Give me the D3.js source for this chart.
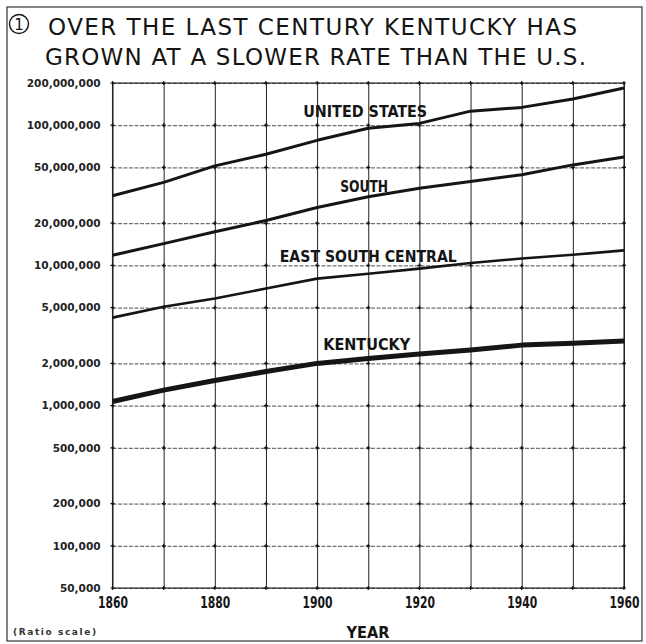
<!DOCTYPE html>
<html>
<head>
<meta charset="utf-8">
<script src="https://cdn.jsdelivr.net/npm/d3@7"></script>
<style>
  body { margin: 0; background: #fff; }
  svg { display: block; }
</style>
</head>
<body>
<svg id="chart" width="646" height="644"></svg>
<script>
// Census years on the x axis
var years = [1860, 1870, 1880, 1890, 1900, 1910, 1920, 1930, 1940, 1950, 1960];
var yearLabels = [1860, 1880, 1900, 1920, 1940, 1960];

// Populations in millions
var unitedStates = [31.4, 39.1, 51.3, 62.0, 78.0, 95.0, 103.0, 126.0, 134.0, 154.0, 184.0];
var south = [11.8, 14.3, 17.4, 20.9, 25.9, 30.9, 35.5, 39.7, 44.3, 52.1, 59.3];
var eastSouthCentral = [4.24, 5.07, 5.81, 6.84, 8.05, 8.73, 9.49, 10.4, 11.2, 11.9, 12.8];
var kentucky = [1.07, 1.29, 1.51, 1.75, 2.0, 2.17, 2.33, 2.49, 2.70, 2.78, 2.89];

// y tick values (persons)
var popTicks = [50000, 100000, 200000, 500000, 1000000, 2000000, 5000000,
                10000000, 20000000, 50000000, 100000000, 200000000];

var seriesNames = ["UNITED STATES", "SOUTH", "EAST SOUTH CENTRAL", "KENTUCKY"];
var seriesValues = [unitedStates, south, eastSouthCentral, kentucky];

var titleLines = ["OVER THE LAST CENTURY KENTUCKY HAS", "GROWN AT A SLOWER RATE THAN THE U.S."];

var ink = "#151515";
var boldFont = "'DejaVu Sans Condensed', 'Liberation Sans Narrow', 'DejaVu Sans', sans-serif";

var svg = d3.select("#chart");

// outer frame of the figure
svg.append("rect")
    .attr("x", 7).attr("y", 7)
    .attr("width", 635).attr("height", 634)
    .attr("fill", "none")
    .attr("stroke", "#333")
    .attr("stroke-width", 1.2);

// Title with the circled number
svg.append("circle")
    .attr("cx", 19).attr("cy", 24).attr("r", 9.5)
    .attr("fill", "none").attr("stroke", ink).attr("stroke-width", 1.4);
svg.append("text")
    .attr("x", 19).attr("y", 30)
    .attr("text-anchor", "middle")
    .style("font-family", "'DejaVu Sans', sans-serif")
    .style("font-size", "15px")
    .style("fill", ink)
    .text("1");

var titleBox = [{x: 48, y: 35, w: 529}, {x: 45, y: 65, w: 541}];
svg.selectAll("text.title")
    .data(titleLines)
    .enter().append("text")
        .attr("class", "title")
        .attr("x", function(d, i) { return titleBox[i].x; })
        .attr("y", function(d, i) { return titleBox[i].y; })
        .attr("textLength", function(d, i) { return titleBox[i].w; })
        .attr("lengthAdjust", "spacing")
        .style("font-family", "'DejaVu Sans', sans-serif")
        .style("font-size", "23px")
        .style("font-weight", "normal")
        .style("fill", ink)
        .text(function(d) { return d; });

// plot area
var margin = {top: 83, left: 112.5},
    width = 624 - 112.5,
    height = 588 - 83;

var x = d3.scaleLinear()
    .domain([1860, 1960])
    .range([0, width]);

var y = d3.scaleLog()
    .domain([50000, 200000000])
    .range([height, 0]);

var g = svg.append("g")
    .attr("transform", "translate(" + margin.left + "," + margin.top + ")");

// horizontal grid
g.append("g")
    .attr("class", "hgrid")
    .call(d3.axisLeft(y).tickValues(popTicks).tickSize(-width).tickFormat(""))
    .call(function(s) { s.select(".domain").remove(); })
    .selectAll("line")
        .attr("stroke", "#3a3a3a")
        .attr("stroke-width", 0.9)
        .attr("stroke-dasharray", "4,1.5");

// vertical grid
g.append("g")
    .attr("class", "vgrid")
    .attr("transform", "translate(0," + height + ")")
    .call(d3.axisBottom(x).tickValues(years).tickSize(-height).tickFormat(""))
    .call(function(s) { s.select(".domain").remove(); })
    .selectAll("line")
        .attr("stroke", "#222")
        .attr("stroke-width", 1);

// frame of plot
g.append("rect")
    .attr("x", 0).attr("y", 0)
    .attr("width", width).attr("height", height)
    .attr("fill", "none")
    .attr("stroke", "#222")
    .attr("stroke-width", 1.1);

// small crosses at grid crossings
var crossings = [];
years.forEach(function(yr) {
    popTicks.forEach(function(p) { crossings.push([yr, p]); });
});
g.selectAll("path.cross")
    .data(crossings)
    .enter().append("path")
        .attr("class", "cross")
        .attr("d", function(d) {
            var cx = x(d[0]), cy = y(d[1]);
            return "M" + (cx - 2) + "," + cy + "H" + (cx + 2) + "M" + cx + "," + (cy - 2) + "V" + (cy + 2);
        })
        .attr("stroke", "#111")
        .attr("stroke-width", 1.2);

// y axis labels
var yAxis = g.append("g")
    .call(d3.axisLeft(y).tickValues(popTicks).tickSize(0).tickPadding(12).tickFormat(d3.format(",")));
yAxis.select(".domain").remove();
yAxis.selectAll("text")
    .style("font-family", "'DejaVu Sans', sans-serif")
    .style("font-size", "10.5px")
    .style("font-weight", "bold")
    .style("fill", "#222");

// x axis labels
var xAxis = g.append("g")
    .attr("transform", "translate(0," + height + ")")
    .call(d3.axisBottom(x).tickValues(yearLabels).tickSize(0).tickPadding(9).tickFormat(d3.format("d")));
xAxis.select(".domain").remove();
xAxis.selectAll("text")
    .attr("textLength", 30)
    .attr("lengthAdjust", "spacingAndGlyphs")
    .style("font-family", boldFont)
    .style("font-size", "15px")
    .style("font-weight", "bold")
    .style("fill", ink);

svg.append("text")
    .attr("x", 368).attr("y", 638)
    .attr("text-anchor", "middle")
    .attr("textLength", 43)
    .attr("lengthAdjust", "spacingAndGlyphs")
    .style("font-family", boldFont)
    .style("font-size", "15px")
    .style("font-weight", "bold")
    .style("fill", ink)
    .text("YEAR");

svg.append("text")
    .attr("x", 13).attr("y", 635)
    .attr("textLength", 83)
    .attr("lengthAdjust", "spacing")
    .style("font-family", "'DejaVu Sans', sans-serif")
    .style("font-size", "9px")
    .style("font-weight", "bold")
    .style("fill", "#333")
    .text("(Ratio scale)");

// series lines
var line = d3.line()
    .x(function(d, i) { return x(years[i]); })
    .y(function(d) { return y(d * 1e6); });

var lineWidths = [3, 3, 2.6, 5];
g.selectAll("path.series")
    .data(seriesValues)
    .enter().append("path")
        .attr("class", "series")
        .attr("d", line)
        .attr("fill", "none")
        .attr("stroke", ink)
        .attr("stroke-width", function(d, i) { return lineWidths[i]; })
        .attr("stroke-linejoin", "round");

// series labels: placed in data coordinates (year, millions)
var labelSpots = [
    {year: 1909.4, value: 114, w: 124},
    {year: 1909.2, value: 33.4, w: 48},
    {year: 1910.0, value: 10.6, w: 177},
    {year: 1909.7, value: 2.49, w: 87}
];
g.selectAll("text.serieslabel")
    .data(seriesNames)
    .enter().append("text")
        .attr("class", "serieslabel")
        .attr("x", function(d, i) { return x(labelSpots[i].year); })
        .attr("y", function(d, i) { return y(labelSpots[i].value * 1e6); })
        .attr("text-anchor", "middle")
        .attr("textLength", function(d, i) { return labelSpots[i].w; })
        .attr("lengthAdjust", "spacingAndGlyphs")
        .style("font-family", boldFont)
        .style("font-size", "15px")
        .style("font-weight", "bold")
        .style("fill", ink)
        .text(function(d) { return d; });
</script>
</body>
</html>
